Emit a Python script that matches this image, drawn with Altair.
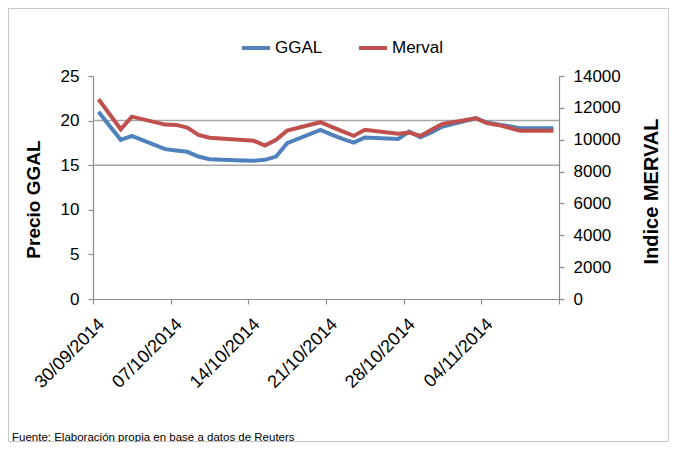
import altair as alt
import pandas as pd

# ---- data ----
dates = ["2014-09-30", "2014-10-01", "2014-10-02", "2014-10-03", "2014-10-06",
         "2014-10-07", "2014-10-08", "2014-10-09", "2014-10-10", "2014-10-13",
         "2014-10-14", "2014-10-15", "2014-10-16", "2014-10-17", "2014-10-20",
         "2014-10-21", "2014-10-22", "2014-10-23", "2014-10-24", "2014-10-27",
         "2014-10-28", "2014-10-29", "2014-10-30", "2014-10-31", "2014-11-03",
         "2014-11-04", "2014-11-05", "2014-11-06", "2014-11-07", "2014-11-10"]
ggal = [21.0, 19.4, 17.84, 18.29, 16.80, 16.64, 16.50, 15.97, 15.66, 15.53,
        15.49, 15.60, 15.97, 17.47, 18.96, 18.42, 17.95, 17.54, 18.10, 17.95,
        18.77, 18.14, 18.68, 19.33, 20.27, 19.78, 19.57, 19.36, 19.15, 19.15]
merval = [12540, 11600, 10660, 11450, 10950, 10930, 10760, 10300, 10130, 9980,
          9930, 9630, 9990, 10570, 11100, 10810, 10530, 10240, 10620, 10370,
          10450, 10240, 10620, 10990, 11350, 11040, 10930, 10750, 10570, 10570]

series_names = ["GGAL", "Merval"]
series_colors = ["#4F81BD", "#C0504D"]
tick_dates = ["2014-09-30", "2014-10-07", "2014-10-14", "2014-10-21",
              "2014-10-28", "2014-11-04", "2014-11-11"]
left_ticks = [0, 5, 10, 15, 20, 25]
right_ticks = [0, 2000, 4000, 6000, 8000, 10000, 12000, 14000]
grid_values = [15, 20]
footer = ["Fuente: Elaboración propia en base a datos de Reuters"]

FONT = "Liberation Sans"
AXIS_GRAY = "#8c8c8c"


def dt(s):
    y, m, d = (int(p) for p in s.split("-"))
    return alt.DateTime(year=y, month=m, date=d)


df = pd.DataFrame({
    "fecha": pd.to_datetime(dates) + pd.Timedelta(hours=12),
    "GGAL": ggal,
    "Merval": merval,
})

x_enc = alt.X(
    "fecha:T",
    scale=alt.Scale(domain=[dt(tick_dates[0]), dt(tick_dates[-1])]),
    axis=alt.Axis(
        values=[dt(s) for s in tick_dates],
        labelExpr="timeFormat(datum.value, '%d/%m') == '11/11' ? '' : timeFormat(datum.value, '%d/%m/%Y')",
        labelAngle=315, labelAlign="right", labelBaseline="top",
        labelPadding=11, labelOffset=2, labelOverlap=False, labelBound=False,
        labelFontSize=18, title=None, grid=False, tickSize=5,
    ),
)

color_enc = alt.Color(
    "serie:N",
    scale=alt.Scale(domain=series_names, range=series_colors),
    legend=alt.Legend(
        orient="none", legendX=147, legendY=-44, direction="horizontal",
        title=None, symbolType="stroke", symbolSize=784, symbolStrokeWidth=4,
        labelFontSize=17, labelOffset=3, columnPadding=28, padding=0,
        labelFont=FONT,
    ),
)

frame = alt.Chart(pd.DataFrame({"a": [0]})).mark_rect(
    fill="transparent", stroke="#c8c8c8", strokeWidth=1
).encode(
    x=alt.value(-84.5), x2=alt.value(466 + 109.5),
    y=alt.value(-67.5), y2=alt.value(223 + 142.5),
)

note = alt.Chart(pd.DataFrame({"t": footer})).mark_text(
    align="left", baseline="alphabetic", font=FONT, fontSize=11.5,
    color="black",
).encode(text="t:N", x=alt.value(-81), y=alt.value(365))

grid = alt.Chart(pd.DataFrame({"v": grid_values})).mark_rule(
    color="#a6a6a6", strokeWidth=1.5
).encode(y=alt.Y("v:Q", scale=alt.Scale(domain=[0, 25]), axis=None))

ggal_line = alt.Chart(df).transform_calculate(serie="'GGAL'").mark_line(
    strokeWidth=4
).encode(
    x=x_enc,
    y=alt.Y("GGAL:Q", scale=alt.Scale(domain=[0, 25]),
            axis=alt.Axis(values=left_ticks, title="Precio GGAL", grid=False,
                          titleFontSize=19, titleFontWeight="bold",
                          titleAngle=270, titleX=-60, titleY=123,
                          titleBaseline="middle", tickSize=5, labelPadding=9,
                          labelFontSize=17)),
    color=color_enc,
)

merval_line = alt.Chart(df).transform_calculate(serie="'Merval'").mark_line(
    strokeWidth=4
).encode(
    x=x_enc,
    y=alt.Y("Merval:Q", scale=alt.Scale(domain=[0, 14000]),
            axis=alt.Axis(orient="right", values=right_ticks, format="d",
                          title="Indice MERVAL", grid=False,
                          titleFontSize=20, titleFontWeight="bold",
                          titleAngle=270, titleX=92, titleY=115,
                          titleBaseline="middle", tickSize=5, labelPadding=9,
                          labelFontSize=17)),
    color=color_enc,
)

chart = alt.layer(frame, note, grid, ggal_line, merval_line).resolve_scale(
    y="independent"
).properties(
    width=466, height=223,
    autosize=alt.AutoSizeParams(type="none"),
    padding={"left": 85, "top": 68, "right": 110, "bottom": 143},
).configure_view(stroke=None).configure_axis(
    labelFont=FONT, titleFont=FONT, labelColor="black", titleColor="black",
    domainColor=AXIS_GRAY, tickColor=AXIS_GRAY, domainWidth=1.2, tickWidth=1.2,
)

chart.save("out.html", embed_options={"renderer": "svg", "actions": False})
